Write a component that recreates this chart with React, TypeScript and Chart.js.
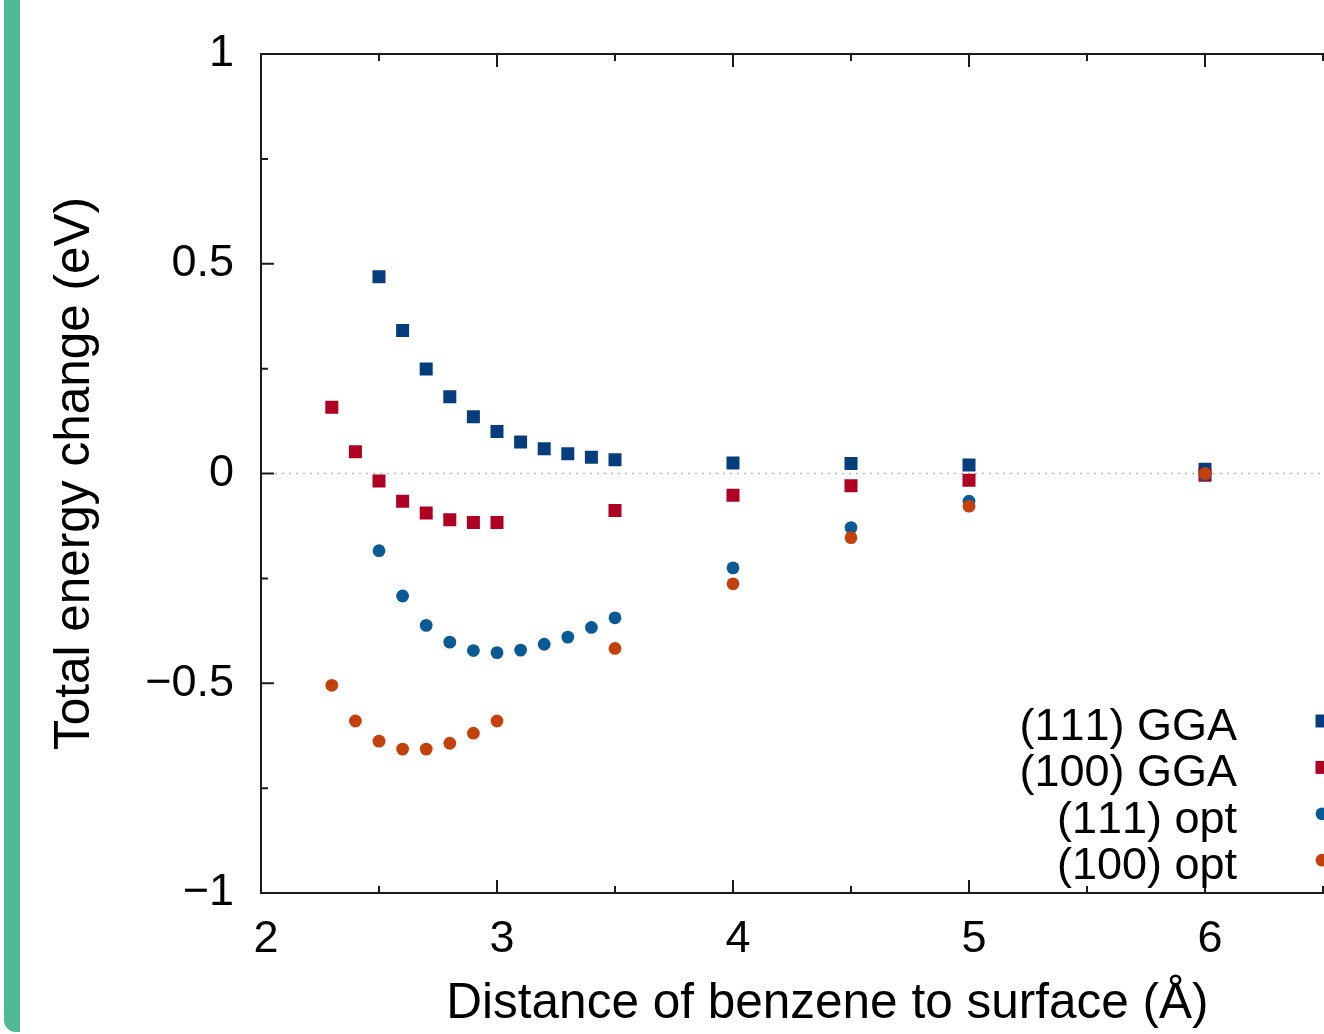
import React, { useEffect, useRef } from 'react';
import { Chart, registerables } from 'chart.js';

Chart.register(...registerables);

// ---- data ----
const SERIES_LABELS = ['(111) GGA', '(100) GGA', '(111) opt', '(100) opt'];

const X_111 = [2.5, 2.6, 2.7, 2.8, 2.9, 3.0, 3.1, 3.2, 3.3, 3.4, 3.5, 4, 4.5, 5, 6];
const Y_111_GGA = [0.469, 0.341, 0.249, 0.183, 0.135, 0.100, 0.075, 0.059, 0.047, 0.039, 0.033, 0.025, 0.024, 0.020, 0.010];
const Y_111_OPT = [-0.184, -0.292, -0.362, -0.402, -0.422, -0.427, -0.421, -0.407, -0.390, -0.367, -0.344, -0.225, -0.129, -0.066, -0.003];

const X_100 = [2.3, 2.4, 2.5, 2.6, 2.7, 2.8, 2.9, 3.0, 3.5, 4, 4.5, 5, 6];
const Y_100_GGA = [0.158, 0.052, -0.018, -0.066, -0.094, -0.110, -0.117, -0.117, -0.088, -0.052, -0.029, -0.016, -0.004];
const Y_100_OPT = [-0.505, -0.590, -0.638, -0.657, -0.657, -0.643, -0.619, -0.590, -0.417, -0.263, -0.153, -0.078, 0.000];

const X_TICKS = [2, 3, 4, 5, 6];
const X_MINOR = [2.5, 3.5, 4.5, 5.5, 6.5];
const Y_TICKS = [-1, -0.5, 0, 0.5, 1];
const Y_MINOR = [-0.75, -0.25, 0.25, 0.75];

const X_TITLE = 'Distance of benzene to surface (Å)';
const Y_TITLE = 'Total energy change (eV)';

// ---- styles ----
const FONT = '"Liberation Sans", Arial, Helvetica, sans-serif';
const COLORS = ['#063e7d', '#b00024', '#0a5a96', '#c4410e'];
const STYLES = ['rect', 'rect', 'circle', 'circle'];
const RADII = [9.2, 9.2, 6.4, 6.4];

const fmt = (v: number) => (v < 0 ? '\u2212' + String(-v) : String(v));

const zeroLinePlugin = {
  id: 'zeroLine',
  beforeDatasetsDraw(chart: any) {
    const { ctx, chartArea: a, scales } = chart;
    const y0 = scales.y.getPixelForValue(0);
    ctx.save();
    ctx.strokeStyle = '#b8b8b8';
    ctx.lineWidth = 1.5;
    ctx.setLineDash([2, 5]);
    ctx.beginPath();
    ctx.moveTo(a.left, y0);
    ctx.lineTo(a.right, y0);
    ctx.stroke();
    ctx.restore();
  },
};

const framePlugin = {
  id: 'frame',
  afterDatasetsDraw(chart: any) {
    const { ctx, chartArea: a, scales } = chart;
    const { x, y } = scales;
    ctx.save();
    ctx.strokeStyle = '#1c1c1c';
    ctx.lineWidth = 2;
    ctx.strokeRect(a.left, a.top, a.right - a.left, a.bottom - a.top);
    ctx.beginPath();
    const xt = (vals: number[], len: number) => {
      vals.forEach((v) => {
        const px = x.getPixelForValue(v);
        ctx.moveTo(px, a.bottom);
        ctx.lineTo(px, a.bottom - len);
        ctx.moveTo(px, a.top);
        ctx.lineTo(px, a.top + len);
      });
    };
    const yt = (vals: number[], len: number) => {
      vals.forEach((v) => {
        const py = y.getPixelForValue(v);
        ctx.moveTo(a.left, py);
        ctx.lineTo(a.left + len, py);
        ctx.moveTo(a.right, py);
        ctx.lineTo(a.right - len, py);
      });
    };
    xt(X_TICKS, 13);
    xt(X_MINOR, 7);
    yt(Y_TICKS, 13);
    yt(Y_MINOR, 7);
    ctx.stroke();
    ctx.restore();
  },
};

const keyPlugin = {
  id: 'key',
  afterDraw(chart: any) {
    const { ctx } = chart;
    ctx.save();
    ctx.font = `45px ${FONT}`;
    try {
      (ctx as any).fontKerning = 'none';
    } catch (e) {
      /* ignore */
    }
    ctx.textAlign = 'right';
    ctx.textBaseline = 'alphabetic';
    chart.data.datasets.forEach((ds: any, i: number) => {
      const base = 740 + i * 46.4;
      ctx.fillStyle = '#000';
      ctx.fillText(ds.label, 1237, base);
      const my = base - 19;
      const mx = 1322;
      ctx.fillStyle = ds.pointBackgroundColor;
      ctx.beginPath();
      if (ds.pointStyle === 'rect') {
        const s = ds.pointRadius * Math.SQRT1_2;
        ctx.rect(mx - s, my - s, 2 * s, 2 * s);
      } else {
        ctx.arc(mx, my, ds.pointRadius, 0, Math.PI * 2);
      }
      ctx.fill();
    });
    ctx.restore();
  },
};

export default function App() {
  const ref = useRef<HTMLCanvasElement | null>(null);

  useEffect(() => {
    if (!ref.current) return;
    const xs = [X_111, X_100, X_111, X_100];
    const ys = [Y_111_GGA, Y_100_GGA, Y_111_OPT, Y_100_OPT];
    const datasets = SERIES_LABELS.map((label, i) => ({
      label,
      data: xs[i].map((xv, k) => ({ x: xv, y: ys[i][k] })),
      showLine: false,
      pointStyle: STYLES[i],
      pointRadius: RADII[i],
      pointHoverRadius: RADII[i],
      pointBackgroundColor: COLORS[i],
      pointBorderColor: COLORS[i],
      pointBorderWidth: 0,
      order: 4 - i,
    }));

    const chart = new Chart(ref.current, {
      type: 'scatter',
      data: { datasets },
      options: {
        responsive: false,
        animation: false,
        devicePixelRatio: 1,
        layout: { padding: { left: 0, top: 53, right: 26.2, bottom: 0 } },
        plugins: { legend: { display: false }, tooltip: { enabled: false } },
        scales: {
          x: {
            type: 'linear',
            min: 2,
            max: 6.8,
            afterBuildTicks: (s: any) => {
              s.ticks = X_TICKS.map((v) => ({ value: v }));
            },
            afterFit: (s: any) => {
              s.height = 141;
            },
            grid: { display: false, drawTicks: false },
            border: { display: false },
            ticks: {
              font: { family: FONT, size: 45 },
              color: '#000',
              padding: 20,
              labelOffset: 5,
              maxRotation: 0,
              callback: (v: any) => fmt(Number(v)),
            },
            title: {
              display: true,
              text: X_TITLE,
              font: { family: FONT, size: 49.5 },
              color: '#000',
              padding: { top: 0, bottom: 0 },
            },
          },
          y: {
            type: 'linear',
            min: -1,
            max: 1,
            afterBuildTicks: (s: any) => {
              s.ticks = Y_TICKS.map((v) => ({ value: v }));
            },
            afterFit: (s: any) => {
              s.width = 261;
            },
            grid: { display: false, drawTicks: false },
            border: { display: false },
            ticks: {
              font: { family: FONT, size: 45 },
              color: '#000',
              padding: 27,
              callback: (v: any) => fmt(Number(v)),
            },
            title: {
              display: true,
              text: Y_TITLE,
              font: { family: FONT, size: 49.5 },
              color: '#000',
              padding: { top: 46, bottom: 0 },
            },
          },
        },
      },
      plugins: [zeroLinePlugin, framePlugin, keyPlugin],
    } as any);

    return () => chart.destroy();
  }, []);

  return (
    <div
      style={{
        position: 'absolute',
        left: 0,
        top: 0,
        width: 1324,
        height: 1034,
        overflow: 'hidden',
        background: '#ffffff',
      }}
    >
      <div
        style={{
          position: 'absolute',
          left: 4,
          top: -20,
          width: 16,
          height: 1052,
          background: '#50b894',
          borderBottomLeftRadius: 12,
        }}
      />
      <canvas ref={ref} width={1420} height={1034} style={{ position: 'absolute', left: 0, top: 0 }} />
    </div>
  );
}
